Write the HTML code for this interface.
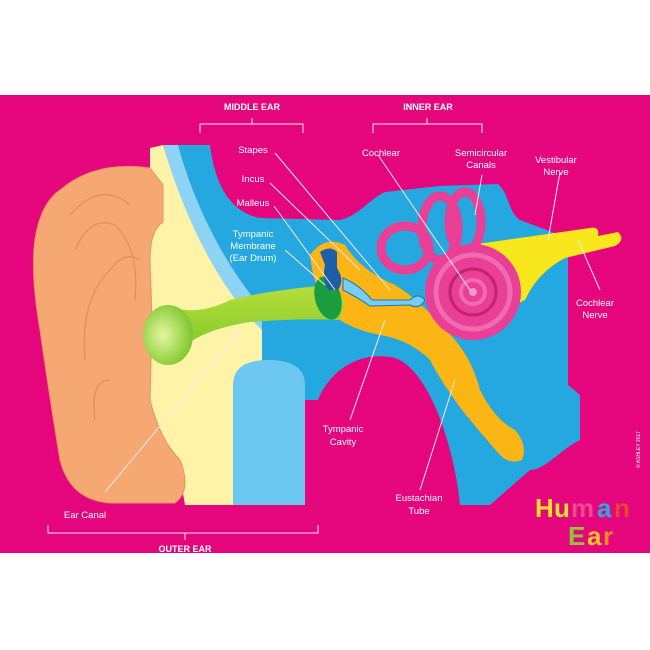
<!DOCTYPE html>
<html><head><meta charset="utf-8"><style>
html,body{margin:0;padding:0;background:#fff;}
svg{display:block;}
text{font-family:"Liberation Sans",sans-serif;fill:#fff;}
</style></head><body>
<svg width="650" height="650" viewBox="0 0 650 650" xmlns="http://www.w3.org/2000/svg">
<defs>
<radialGradient id="gb" cx="0.4" cy="0.5" r="0.6"><stop offset="0" stop-color="#e4f7a0"/><stop offset="1" stop-color="#7cc62a"/></radialGradient>
<linearGradient id="gt" x1="0" y1="0" x2="0" y2="1"><stop offset="0" stop-color="#b8df3a"/><stop offset="1" stop-color="#7cc62a"/></linearGradient>
</defs>
<rect x="0" y="0" width="650" height="650" fill="#fff"/>
<rect x="0" y="95" width="650" height="458" fill="#e5067e"/>
<path d="M163,145 L210,145 C215,185 230,212 260,218 L340,220 C360,215 368,200 385,192 L440,186 L498,184 C510,195 508,212 520,220 L568,238 L568,385 L580,395 L580,440 C560,450 545,470 530,470 L490,505 L460,505 C455,450 430,370 395,358 C360,350 330,370 318,400 L305,400 L305,505 L260,505 L260,360 L240,330 L175,180 Z" fill="#25a7e0"/>
<path d="M150,148 L163,145 C175,185 200,240 230,290 L262,330 L262,505 L185,505 C180,470 165,440 155,420 L150,400 Z" fill="#fef3a6"/>
<path d="M163,145 L178,145 C190,190 215,250 255,300 L262,310 L262,330 C220,290 185,220 163,145 Z" fill="#8fd3f4"/>
<path d="M233,505 L233,385 Q233,360 268,360 Q305,360 305,385 L305,505 Z" fill="#6cc8f1"/>
<path d="M60,190 Q95,160 150,168 L163,185 L163,222 Q150,230 150,260 L152,320 L150,400 Q160,440 180,460 Q192,490 175,503 L110,503 Q70,500 60,460 Q50,400 40,330 Q28,260 38,225 Q45,200 60,190 Z" fill="#f6a873" stroke="#e89060" stroke-width="1"/>
<path d="M70,215 Q100,180 130,205 M75,250 Q90,215 115,225 Q140,250 135,300 M85,360 Q80,300 110,270 Q125,250 140,260 M95,420 Q90,380 110,380" fill="none" stroke="#e48b5c" stroke-width="1.2"/>
<path d="M310,255 Q325,235 345,245 Q360,270 395,285 Q420,300 440,325 Q470,350 480,390 Q495,420 515,430 Q528,445 522,460 Q510,465 500,455 Q478,430 462,410 Q440,380 430,360 Q410,340 380,335 Q355,330 340,320 Q315,300 310,255 Z" fill="#fbb515"/>
<path d="M150,322 Q150,305 175,308 Q200,315 230,300 Q270,290 330,285 L345,300 L340,320 Q300,318 250,322 Q200,330 180,350 Q160,365 148,350 Z" fill="url(#gt)"/>
<ellipse cx="168" cy="335" rx="25" ry="30" fill="url(#gb)"/>
<ellipse cx="328" cy="298" rx="13" ry="22" fill="#1a9d3e" transform="rotate(-15 328 298)"/>
<path d="M320,252 Q330,245 337,252 L337,268 Q345,280 338,290 L328,290 Q322,278 325,265 Z" fill="#1c5ea8"/>
<path d="M343,278 Q360,285 372,300 L410,300 Q418,292 425,300 Q420,310 410,305 L370,306 Q355,296 343,290 Z" fill="#78cdf0" stroke="#1e77b0" stroke-width="1"/>
<path d="M470,245 L590,228 Q600,226 598,236 L618,232 Q626,240 615,246 L565,258 Q538,272 525,300 L505,310 Z" fill="#f8e71c"/>
<g fill="none" stroke="#e93f96" stroke-width="9">
<ellipse cx="405" cy="248" rx="24" ry="22"/>
<ellipse cx="440" cy="228" rx="18" ry="32"/>
<ellipse cx="465" cy="222" rx="16" ry="30"/>
</g>
<circle cx="473" cy="292" r="48" fill="#e93f96"/>
<circle cx="473" cy="292" r="37" fill="none" stroke="#f06bb2" stroke-width="5"/>
<circle cx="473" cy="292" r="23" fill="none" stroke="#c2226f" stroke-width="3"/>
<circle cx="473" cy="292" r="12" fill="none" stroke="#f06bb2" stroke-width="4"/>
<circle cx="473" cy="292" r="4" fill="#f39ac8"/>
<g stroke="#fbe6f0" stroke-width="1" fill="none">
<path d="M200,133 L200,124 L303,124 L303,133 M252,124 L252,118"/>
<path d="M373,133 L373,124 L482,124 L482,133 M427,124 L427,118"/>
<path d="M48,525 L48,533 L318,533 L318,525 M185,533 L185,540"/>
<path d="M275,153 L390,290"/>
<path d="M270,183 L360,270"/>
<path d="M274,206 L335,290"/>
<path d="M285,250 L325,285"/>
<path d="M378,155 L470,290"/>
<path d="M482,175 L475,215"/>
<path d="M560,172 L548,240"/>
<path d="M578,240 L600,290"/>
<path d="M385,320 L350,420"/>
<path d="M455,380 L420,490"/>
<path d="M240,330 L105,492"/>
</g>
<g font-size="9.5" text-anchor="middle">
<text x="252" y="110" font-weight="bold" font-size="9">MIDDLE EAR</text>
<text x="428" y="110" font-weight="bold" font-size="9">INNER EAR</text>
<text x="185" y="552" font-weight="bold" font-size="9">OUTER EAR</text>
<text x="253" y="153">Stapes</text>
<text x="253" y="182">Incus</text>
<text x="253" y="206">Malleus</text>
<text x="253" y="237">Tympanic</text>
<text x="253" y="249">Membrane</text>
<text x="253" y="261">(Ear Drum)</text>
<text x="381" y="156">Cochlear</text>
<text x="481" y="156">Semicircular</text>
<text x="481" y="168">Canals</text>
<text x="556" y="163">Vestibular</text>
<text x="556" y="175">Nerve</text>
<text x="595" y="306">Cochlear</text>
<text x="595" y="318">Nerve</text>
<text x="343" y="432">Tympanic</text>
<text x="343" y="445">Cavity</text>
<text x="419" y="501">Eustachian</text>
<text x="419" y="514">Tube</text>
<text x="85" y="518">Ear Canal</text>
</g>
<g font-weight="bold" font-size="26" font-family="Liberation Sans,sans-serif">
<text x="535" y="517" style="fill:#f5e02a">H</text>
<text x="554" y="517" style="fill:#d8e030">u</text>
<text x="571" y="517" style="fill:#f04a8c">m</text>
<text x="597" y="517" style="fill:#2da8e0">a</text>
<text x="614" y="517" style="fill:#e8452e">n</text>
<text x="568" y="545" style="fill:#8cc63e">E</text>
<text x="587" y="545" style="fill:#f5c52a">a</text>
<text x="603" y="545" style="fill:#f38b25">r</text>
</g>
<text x="640" y="468" font-size="5" transform="rotate(-90 640 468)">© ASHLEY 2017</text>
</svg>
</body></html>
